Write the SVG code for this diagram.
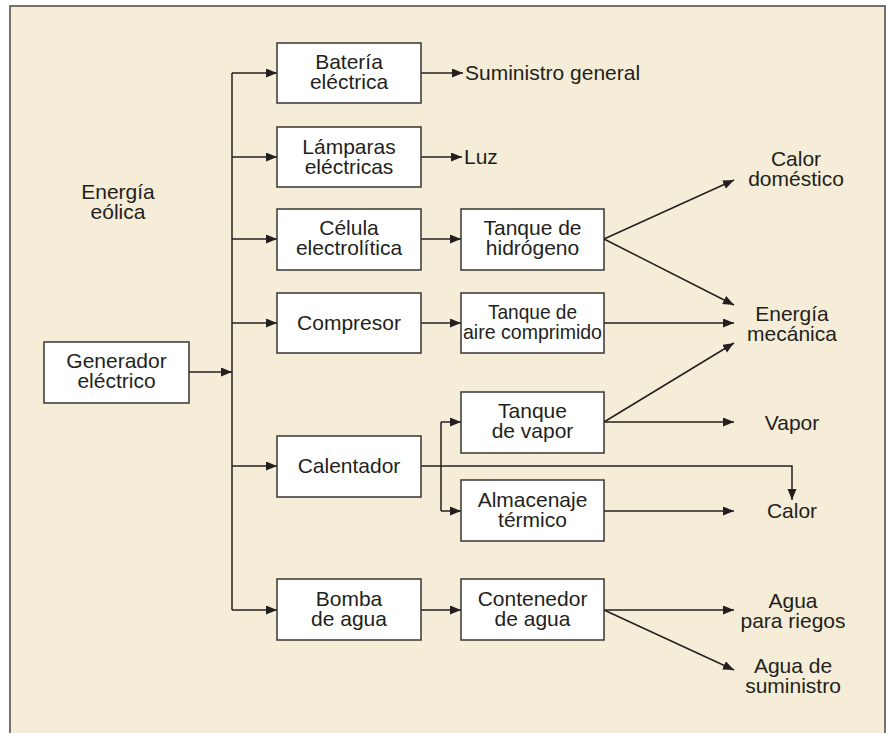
<svg xmlns="http://www.w3.org/2000/svg" width="886" height="733" viewBox="0 0 886 733">
<defs>
<marker id="ah" markerUnits="userSpaceOnUse" markerWidth="12" markerHeight="10" refX="11" refY="4.5" orient="auto">
<path d="M0,0 L11,4.5 L0,9 z" fill="#231f20"/>
</marker>
<style>
.bx{fill:#fff;stroke:#3a3536;stroke-width:1.5}
.t{font-family:"Liberation Sans",Arial,sans-serif;font-size:21px;fill:#231f20;text-anchor:middle}
.ts{text-anchor:start}
.c{stroke:#231f20;stroke-width:1.5;fill:none}
.a{marker-end:url(#ah)}
</style>
</defs>
<rect x="0" y="0" width="886" height="733" fill="#fff"/>
<rect x="10" y="6" width="875" height="740" fill="#f5edd7" stroke="#4a4546" stroke-width="1.5"/>

<g id="energia-eolica">
<text class="t" x="118" y="199">Energía<tspan x="118" dy="20">eólica</tspan></text>
</g>

<g id="connectors">
<line class="c a" x1="189" y1="372" x2="232" y2="372"/>
<line class="c" x1="232" y1="73" x2="232" y2="610"/>
<line class="c a" x1="232" y1="73" x2="277" y2="73"/>
<line class="c a" x1="232" y1="157" x2="277" y2="157"/>
<line class="c a" x1="232" y1="239" x2="277" y2="239"/>
<line class="c a" x1="232" y1="323" x2="277" y2="323"/>
<line class="c a" x1="232" y1="466" x2="277" y2="466"/>
<line class="c a" x1="232" y1="610" x2="277" y2="610"/>
<line class="c a" x1="421" y1="73" x2="463" y2="73"/>
<line class="c a" x1="421" y1="157" x2="462" y2="157"/>
<line class="c a" x1="421" y1="239" x2="461" y2="239"/>
<line class="c a" x1="421" y1="323" x2="461" y2="323"/>
<path class="c a" d="M421,466 H792 V500"/>
<line class="c" x1="441" y1="422" x2="441" y2="511"/>
<line class="c a" x1="441" y1="422" x2="461" y2="422"/>
<line class="c a" x1="441" y1="511" x2="461" y2="511"/>
<line class="c a" x1="421" y1="610" x2="461" y2="610"/>
<line class="c a" x1="604" y1="239" x2="734" y2="180"/>
<line class="c a" x1="604" y1="239" x2="734" y2="305"/>
<line class="c a" x1="604" y1="323" x2="734" y2="323"/>
<line class="c a" x1="604" y1="422" x2="734" y2="343"/>
<line class="c a" x1="604" y1="422" x2="734" y2="422"/>
<line class="c a" x1="604" y1="511" x2="734" y2="511"/>
<line class="c a" x1="604" y1="610" x2="734" y2="610"/>
<line class="c a" x1="604" y1="610" x2="734" y2="670"/>
</g>

<g id="generador">
<rect class="bx" x="44" y="342" width="145" height="61"/>
<text class="t" x="116.5" y="368">Generador<tspan x="116.5" dy="20">eléctrico</tspan></text>
</g>

<g id="bateria">
<rect class="bx" x="277" y="43" width="144" height="60"/>
<text class="t" x="349" y="69">Batería<tspan x="349" dy="20">eléctrica</tspan></text>
</g>
<g id="lamparas">
<rect class="bx" x="277" y="127" width="144" height="60"/>
<text class="t" x="349" y="154">Lámparas<tspan x="349" dy="20">eléctricas</tspan></text>
</g>
<g id="celula">
<rect class="bx" x="277" y="209" width="144" height="61"/>
<text class="t" x="349" y="235">Célula<tspan x="349" dy="20">electrolítica</tspan></text>
</g>
<g id="compresor">
<rect class="bx" x="277" y="293" width="144" height="60"/>
<text class="t" x="349" y="330">Compresor</text>
</g>
<g id="calentador">
<rect class="bx" x="277" y="436" width="144" height="61"/>
<text class="t" x="349" y="473">Calentador</text>
</g>
<g id="bomba">
<rect class="bx" x="277" y="579" width="144" height="61"/>
<text class="t" x="349" y="606">Bomba<tspan x="349" dy="20">de agua</tspan></text>
</g>

<g id="hidrogeno">
<rect class="bx" x="461" y="209" width="143" height="61"/>
<text class="t" x="532.5" y="235">Tanque de<tspan x="532.5" dy="20">hidrógeno</tspan></text>
</g>
<g id="aire">
<rect class="bx" x="461" y="293" width="143" height="60"/>
<text class="t" x="532.5" y="319" textLength="89" lengthAdjust="spacingAndGlyphs">Tanque de</text>
<text class="t" x="532.5" y="339" textLength="139" lengthAdjust="spacingAndGlyphs">aire comprimido</text>
</g>
<g id="vapor-tanque">
<rect class="bx" x="461" y="392" width="143" height="61"/>
<text class="t" x="532.5" y="418">Tanque<tspan x="532.5" dy="20">de vapor</tspan></text>
</g>
<g id="almacenaje">
<rect class="bx" x="461" y="480" width="143" height="61"/>
<text class="t" x="532.5" y="507">Almacenaje<tspan x="532.5" dy="20">térmico</tspan></text>
</g>
<g id="contenedor">
<rect class="bx" x="461" y="579" width="143" height="61"/>
<text class="t" x="532.5" y="606">Contenedor<tspan x="532.5" dy="20">de agua</tspan></text>
</g>

<g id="suministro-general"><text class="t ts" x="465" y="80">Suministro general</text></g>
<g id="luz"><text class="t ts" x="464" y="164">Luz</text></g>
<g id="calor-domestico">
<text class="t" x="796" y="166">Calor<tspan x="796" dy="20">doméstico</tspan></text>
</g>
<g id="energia-mecanica">
<text class="t" x="792" y="321">Energía<tspan x="792" dy="20">mecánica</tspan></text>
</g>
<g id="vapor"><text class="t" x="792" y="430">Vapor</text></g>
<g id="calor"><text class="t" x="792" y="518">Calor</text></g>
<g id="agua-riegos">
<text class="t" x="793" y="608">Agua<tspan x="793" dy="20">para riegos</tspan></text>
</g>
<g id="agua-suministro">
<text class="t" x="793" y="673">Agua de<tspan x="793" dy="20">suministro</tspan></text>
</g>
</svg>
